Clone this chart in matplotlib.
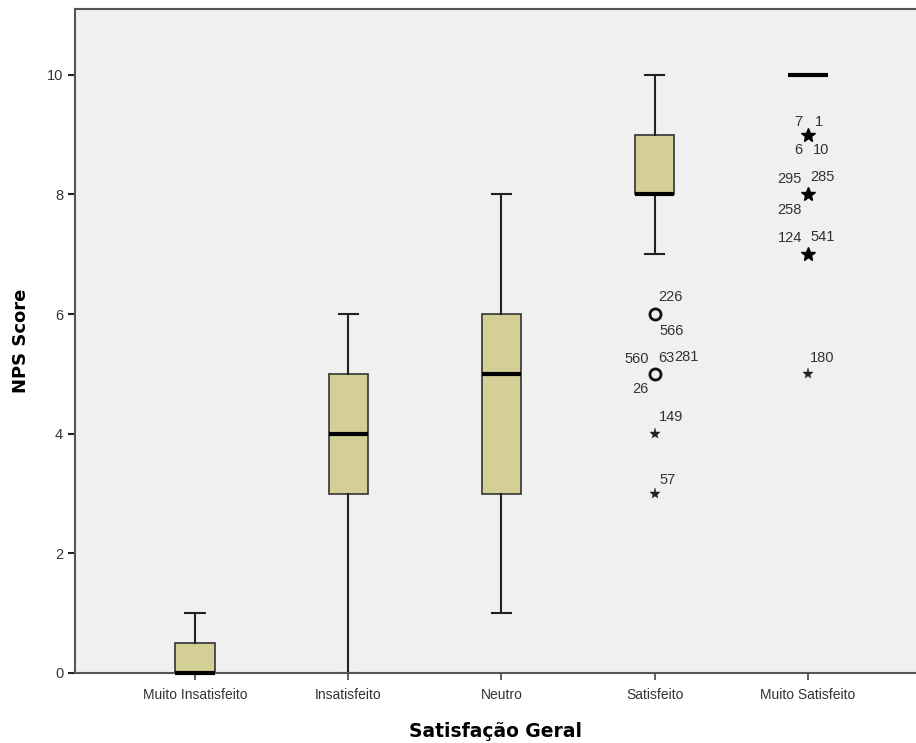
import matplotlib
matplotlib.use('Agg')
import matplotlib.pyplot as plt

categories = ['Muito Insatisfeito', 'Insatisfeito', 'Neutro', 'Satisfeito',
              'Muito Satisfeito']
q1 = [0, 3, 3, 8, 10]
median = [0, 4, 5, 8, 10]
q3 = [0.5, 5, 6, 9, 10]
whislo = [0, 0, 1, 7, 10]
whishi = [1, 6, 8, 10, 10]

# outliers: (category index, value, case ids, kind)
outliers = [
    (3, 6, ['226', '566'], 'o'),
    (3, 5, ['560', '63', '281', '26'], 'o'),
    (3, 4, ['149'], '*'),
    (3, 3, ['57'], '*'),
    (4, 9, ['7', '1', '6', '10'], '*'),
    (4, 8, ['295', '285', '258'], '*'),
    (4, 7, ['124', '541'], '*'),
    (4, 5, ['180'], '*'),
]

# label placement around a point, in pixels (dx, dy, ha)
label_pos = {
    '226': (4, 17, 'left'), '566': (5, -17, 'left'),
    '560': (-6, 15, 'right'), '63': (4, 16, 'left'), '281': (20, 17, 'left'),
    '26': (-6, -15, 'right'),
    '149': (4, 17, 'left'), '57': (5, 14, 'left'),
    '7': (-6, 13, 'right'), '1': (7, 13, 'left'),
    '6': (-6, -15, 'right'), '10': (5, -15, 'left'),
    '295': (-6, 15, 'right'), '285': (2, 17, 'left'), '258': (-6, -16, 'right'),
    '124': (-6, 16, 'right'), '541': (2, 17, 'left'),
    '180': (2, 16, 'left'),
}

plt.rcParams['font.family'] = ['Liberation Sans', 'DejaVu Sans']

fig = plt.figure(figsize=(9.16, 7.43), dpi=100)
ax = fig.add_axes([75 / 916, 70 / 743, 841 / 916, 664 / 743])
ax.set_facecolor('#f0f0f0')

positions = list(range(1, len(categories) + 1))
stats = []
for i in range(len(categories)):
    stats.append({'med': median[i], 'q1': q1[i], 'q3': q3[i],
                  'whislo': whislo[i], 'whishi': whishi[i], 'fliers': []})

bp = ax.bxp(stats, positions=positions, widths=0.255, patch_artist=True,
            showfliers=False, capwidths=0.125,
            boxprops=dict(facecolor='#d3cf97', edgecolor='#333333',
                          linewidth=1.2),
            whiskerprops=dict(color='#222222', linewidth=1.5),
            capprops=dict(color='#222222', linewidth=1.5),
            medianprops=dict(color='black', linewidth=3,
                             solid_capstyle='butt'))
for m in bp['medians']:
    m.set_clip_on(False)
    m.set_zorder(5)

for idx, val, ids, kind in outliers:
    x = positions[idx]
    if kind == 'o':
        ax.plot(x, val, 'o', ms=8, mfc='none', mec='#111111', mew=2)
    elif len(ids) > 1:
        ax.plot(x, val, '*', ms=10.5, color='black', mec='black', mew=1)
    else:
        ax.plot(x, val, '*', ms=8, color='#222222', mew=0.3)
    for cid in ids:
        dx, dy, ha = label_pos[cid]
        ax.annotate(cid, (x, val), xytext=(dx, dy), textcoords='offset pixels',
                    ha=ha, va='center', fontsize=10.5, color='#333333')

ax.set_xlim(0.217, 5.705)
ax.set_ylim(0, 11.1)
ax.set_xticks(positions)
ax.set_xticklabels(categories, fontsize=10, color='#333333')
ax.set_yticks([0, 2, 4, 6, 8, 10])
ax.tick_params(axis='y', labelsize=10.5, labelcolor='#333333', length=5,
               width=1.5, color='#222222')
ax.tick_params(axis='x', length=5, width=1.2, color='#444444', pad=6)

for side in ['left', 'top', 'bottom']:
    ax.spines[side].set_color('#555555')
    ax.spines[side].set_linewidth(1.5)
ax.spines['right'].set_visible(False)

ax.set_xlabel('Satisfação Geral', fontsize=13.5, fontweight='bold',
              family='DejaVu Sans', labelpad=14)
ax.set_ylabel('NPS Score', fontsize=13, fontweight='bold',
              family='DejaVu Sans', labelpad=12)

fig.savefig('out.png', dpi=100, facecolor='white')
